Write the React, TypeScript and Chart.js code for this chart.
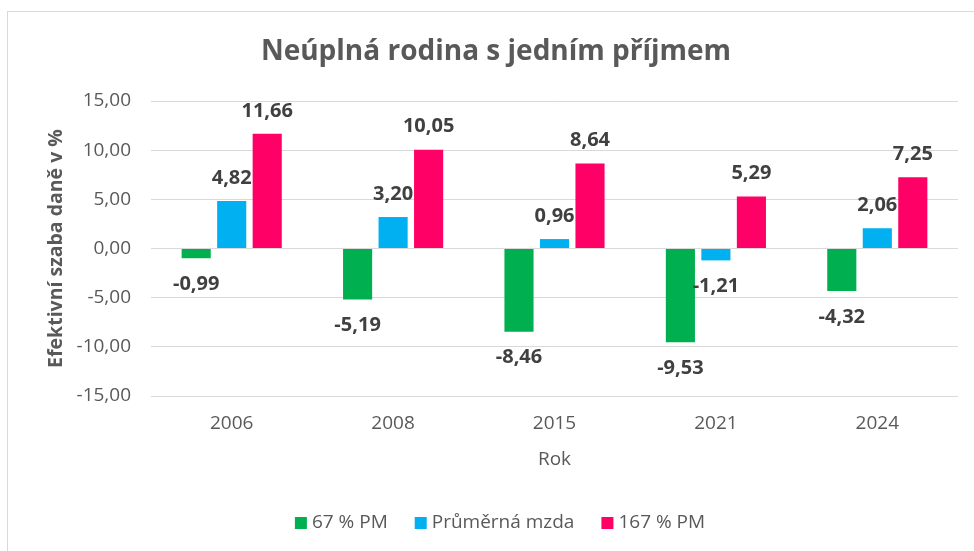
import React, { useEffect, useRef } from "react";
import { Chart, registerables } from "chart.js";

Chart.register(...registerables);

const categories = ["2006", "2008", "2015", "2021", "2024"];
const seriesNames = ["67 % PM", "Průměrná mzda", "167 % PM"];
const pm67 = [-0.99, -5.19, -8.46, -9.53, -4.32];
const avgWage = [4.82, 3.2, 0.96, -1.21, 2.06];
const pm167 = [11.66, 10.05, 8.64, 5.29, 7.25];
const colors = ["#00B050", "#00B0F0", "#FF0066"];
const titleText = "Neúplná rodina s jedním příjmem";
const yTitle = "Efektivní szaba daně v %";
const xTitle = "Rok";

const FONT = "'Open Sans', sans-serif";
const fmt = (v: number) => v.toFixed(2).replace(".", ",");

const titlePlugin = {
  id: "customTitle",
  afterDraw(chart: any) {
    const ctx = chart.ctx;
    ctx.save();
    ctx.font = `bold 28px ${FONT}`;
    ctx.fillStyle = "#595959";
    ctx.textAlign = "center";
    ctx.textBaseline = "middle";
    ctx.fillText(titleText, 496, 52);
    ctx.restore();
  },
};

const legendPlugin = {
  id: "customLegend",
  afterDraw(chart: any) {
    const ctx = chart.ctx;
    ctx.save();
    ctx.font = `19px ${FONT}`;
    ctx.textBaseline = "middle";
    ctx.textAlign = "left";
    const box = 12;
    const gapText = 5;
    const gapItem = 27;
    const items = chart.data.datasets.map((ds: any) => ({
      label: ds.label,
      color: ds.backgroundColor,
      w: ctx.measureText(ds.label).width,
    }));
    const total =
      items.reduce((s: number, it: any) => s + box + gapText + it.w, 0) + gapItem * (items.length - 1);
    const cx = 500;
    let x = cx - total / 2;
    const y = 523;
    items.forEach((it: any) => {
      ctx.fillStyle = it.color;
      ctx.fillRect(x, y - box / 2, box, box);
      ctx.fillStyle = "#595959";
      ctx.fillText(it.label, x + box + gapText, y);
      x += box + gapText + it.w + gapItem;
    });
    ctx.restore();
  },
};

const labelPlugin = {
  id: "barLabels",
  afterDatasetsDraw(chart: any) {
    const ctx = chart.ctx;
    ctx.save();
    ctx.font = `bold 20px ${FONT}`;
    ctx.fillStyle = "#404040";
    ctx.textAlign = "center";
    ctx.textBaseline = "middle";
    chart.data.datasets.forEach((ds: any, di: number) => {
      const meta = chart.getDatasetMeta(di);
      meta.data.forEach((bar: any, i: number) => {
        const v = ds.data[i];
        const y = v >= 0 ? bar.y - 23 : bar.y + 26;
        ctx.fillText(fmt(v), bar.x, y);
      });
    });
    ctx.restore();
  },
};

export default function App() {
  const ref = useRef<HTMLCanvasElement | null>(null);
  useEffect(() => {
    document.body.style.margin = "0";
    const chart = new Chart(ref.current as HTMLCanvasElement, {
      type: "bar",
      data: {
        labels: categories,
        datasets: [pm67, avgWage, pm167].map((d, i) => ({
          label: seriesNames[i],
          data: d,
          backgroundColor: colors[i],
          borderWidth: 0,
          categoryPercentage: 0.66,
          barPercentage: 0.82,
        })),
      },
      options: {
        responsive: false,
        animation: false,
        layout: { padding: { top: 101, left: 45, right: 16, bottom: 49 } },
        plugins: {
          title: { display: false },
          tooltip: { enabled: false },
          legend: { display: false },
        },
        scales: {
          x: {
            grid: { display: false },
            border: { display: false },
            ticks: { color: "#595959", font: { family: FONT, size: 19 }, padding: 8 },
            title: {
              display: true,
              text: xTitle,
              color: "#595959",
              font: { family: FONT, size: 19 },
              padding: { top: 0, bottom: 31 },
            },
            afterFit: (s: any) => {
              s.height = 106;
            },
          },
          y: {
            min: -15,
            max: 15,
            ticks: {
              stepSize: 5,
              color: "#595959",
              font: { family: FONT, size: 19 },
              padding: 20,
              callback: (v: any) => fmt(Number(v)),
            },
            grid: { color: "#D9D9D9", lineWidth: 1, drawTicks: false },
            border: { display: false },
            title: {
              display: true,
              text: yTitle,
              color: "#595959",
              font: { family: FONT, size: 19.5, weight: "bold" },
              padding: { top: 0, bottom: 0 },
            },
            afterFit: (s: any) => {
              s.width = 106;
            },
          },
        },
      },
      plugins: [titlePlugin, labelPlugin, legendPlugin],
    });
    return () => chart.destroy();
  }, []);
  return (
    <div style={{ position: "relative", width: 974, height: 551, overflow: "hidden", background: "#fff" }}>
      <div
        style={{
          position: "absolute",
          left: 7,
          top: 11,
          width: 1100,
          height: 700,
          border: "1.5px solid #D9D9D9",
        }}
      />
      <canvas ref={ref} width={974} height={551} style={{ position: "absolute", left: 0, top: 0 }} />
    </div>
  );
}
